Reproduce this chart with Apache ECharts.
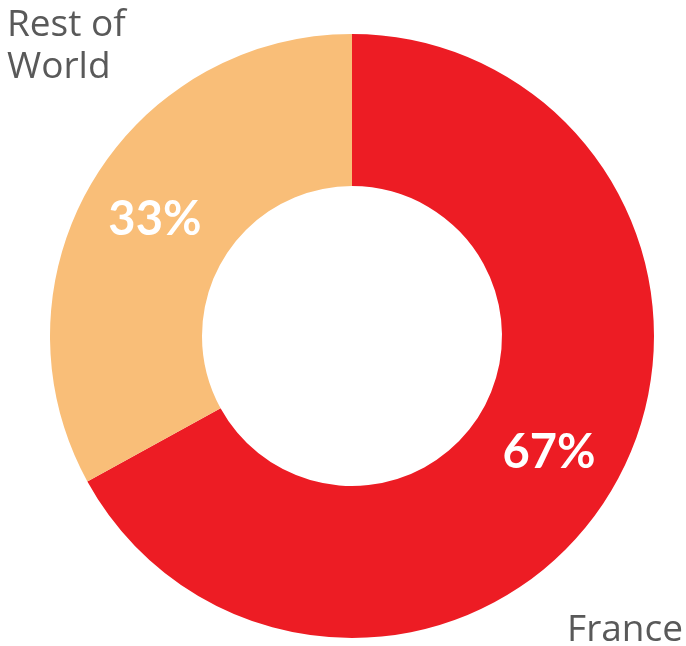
<!DOCTYPE html>
<html><head><meta charset="utf-8">
<script src="https://cdn.jsdelivr.net/npm/echarts@6/dist/echarts.min.js"></script>
<style>html,body{margin:0;padding:0;background:#fff}#c{width:686px;height:646px}</style>
</head><body><div id="c"></div>
<script>
const categories = ['France', 'Rest of World'];
const values = [67, 33];
const colors = ['#ED1C24', '#F9BE78'];
const outerLabels = ['France', 'Rest of\nWorld'];

const chart = echarts.init(document.getElementById('c'), null, {renderer: 'canvas'});
chart.setOption({
  animation: false,
  series: [{
    type: 'pie',
    center: [352, 336],
    radius: [150, 302],
    startAngle: 90,
    clockwise: true,
    avoidLabelOverlap: false,
    label: {
      show: true,
      position: 'inside',
      formatter: p => p.value + '%',
      color: '#fff',
      fontFamily: 'Lato',
      fontWeight: 'bold',
      fontSize: 47,
      padding: [12, 0, 0, 0]
    },
    labelLine: {show: false},
    itemStyle: {borderWidth: 0},
    data: categories.map((c, i) => ({name: c, value: values[i], itemStyle: {color: colors[i]}}))
  }],
  graphic: [
    {type: 'text', left: 7, top: 4, style: {text: outerLabels[1], fill: '#595959', font: '37px "Open Sans"', lineHeight: 42}},
    {type: 'text', right: 3, top: 609, style: {text: outerLabels[0], fill: '#595959', font: '37px "Open Sans"', lineHeight: 42}}
  ]
});
</script></body></html>
